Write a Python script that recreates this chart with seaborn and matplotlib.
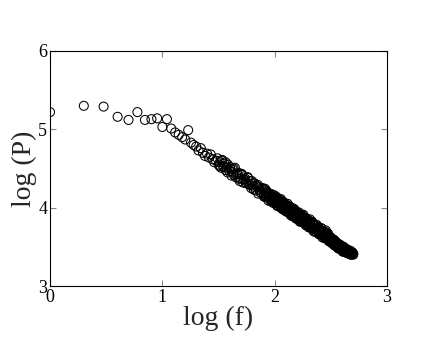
import matplotlib
matplotlib.use("Agg")
import matplotlib.pyplot as plt
import seaborn as sns
import pandas as pd

# log(f) / log(P) değerleri
log_f_sparse = [0.000, 0.301, 0.477, 0.602, 0.699, 0.778, 0.845, 0.903, 0.954, 1.000,
                1.041, 1.079, 1.114, 1.146, 1.176, 1.204, 1.230, 1.255, 1.279, 1.301,
                1.322, 1.342, 1.362, 1.380, 1.398, 1.415, 1.431, 1.447, 1.462, 1.477]
log_p_sparse = [5.22, 5.30, 5.29, 5.16, 5.12, 5.22, 5.12, 5.13, 5.14, 5.03,
                5.13, 5.01, 4.96, 4.93, 4.90, 4.87, 4.99, 4.83, 4.80, 4.78,
                4.73, 4.76, 4.70, 4.66, 4.69, 4.64, 4.68, 4.62, 4.58, 4.60]

log_f_mid = [1.491, 1.502, 1.512, 1.523, 1.533, 1.543, 1.553, 1.564, 1.574, 1.584,
             1.595, 1.605, 1.615, 1.626, 1.636, 1.646, 1.657, 1.667, 1.677, 1.688,
             1.698, 1.708, 1.719, 1.729, 1.739, 1.750, 1.760, 1.770, 1.781, 1.791,
             1.801, 1.812, 1.822, 1.832, 1.843, 1.853, 1.863, 1.874, 1.884, 1.894,
             1.905, 1.915, 1.925, 1.936, 1.946, 1.956, 1.967, 1.977, 1.987, 1.998]
log_p_mid = [4.63, 4.55, 4.58, 4.51, 4.61, 4.53, 4.56, 4.48, 4.51, 4.55,
             4.47, 4.50, 4.41, 4.49, 4.42, 4.51, 4.42, 4.43, 4.37, 4.44,
             4.37, 4.43, 4.32, 4.36, 4.37, 4.31, 4.39, 4.30, 4.34, 4.25,
             4.30, 4.27, 4.31, 4.22, 4.27, 4.18, 4.26, 4.22, 4.18, 4.25,
             4.17, 4.19, 4.13, 4.19, 4.14, 4.18, 4.10, 4.14, 4.06, 4.11]

log_f_mid2 = [1.509, 1.527, 1.545, 1.563, 1.581, 1.599, 1.617, 1.635, 1.653, 1.671,
              1.689, 1.707, 1.725, 1.743, 1.761, 1.779, 1.797, 1.815, 1.833, 1.851,
              1.869, 1.887, 1.905, 1.923, 1.941]
log_p_mid2 = [4.53, 4.60, 4.52, 4.58, 4.45, 4.52, 4.46, 4.50, 4.39, 4.44,
              4.34, 4.42, 4.36, 4.32, 4.38, 4.29, 4.34, 4.23, 4.28, 4.29,
              4.20, 4.24, 4.15, 4.22, 4.14]

log_f_dense = [2.007, 2.014, 2.021, 2.028, 2.035, 2.042, 2.049, 2.056, 2.063, 2.070,
               2.077, 2.084, 2.091, 2.098, 2.105, 2.112, 2.119, 2.126, 2.133, 2.140,
               2.147, 2.154, 2.161, 2.168, 2.175, 2.182, 2.189, 2.196, 2.203, 2.210,
               2.217, 2.224, 2.231, 2.238, 2.245, 2.252, 2.259, 2.266, 2.273, 2.280,
               2.287, 2.294, 2.301, 2.308, 2.315, 2.322, 2.329, 2.336, 2.343, 2.350,
               2.357, 2.364, 2.371, 2.378, 2.385, 2.392, 2.399, 2.406, 2.413, 2.420,
               2.427, 2.434, 2.441, 2.448, 2.455, 2.462, 2.469, 2.476, 2.483, 2.490,
               2.497]
log_p_dense = [4.12, 4.07, 4.12, 4.03, 4.08, 4.05, 4.10, 4.01, 4.06, 3.98,
               4.05, 4.02, 3.99, 4.04, 3.96, 4.01, 3.97, 4.00, 3.94, 4.01,
               3.93, 3.96, 3.89, 3.95, 3.92, 3.96, 3.88, 3.93, 3.86, 3.89,
               3.90, 3.86, 3.91, 3.83, 3.87, 3.81, 3.87, 3.82, 3.85, 3.79,
               3.85, 3.79, 3.81, 3.75, 3.82, 3.78, 3.75, 3.80, 3.73, 3.77,
               3.73, 3.77, 3.69, 3.73, 3.70, 3.74, 3.67, 3.71, 3.69, 3.65,
               3.70, 3.65, 3.67, 3.62, 3.67, 3.63, 3.66, 3.60, 3.63, 3.58,
               3.62]

log_f_tail = [2.503, 2.509, 2.515, 2.521, 2.527, 2.533, 2.539, 2.545, 2.551, 2.557,
              2.563, 2.569, 2.575, 2.581, 2.587, 2.593, 2.599, 2.605, 2.611, 2.617,
              2.623, 2.629, 2.635, 2.641, 2.647, 2.653, 2.659, 2.665, 2.671, 2.677,
              2.683, 2.689, 2.695, 2.700]
log_p_tail = [3.61, 3.56, 3.58, 3.54, 3.59, 3.54, 3.56, 3.52, 3.53, 3.55,
              3.49, 3.52, 3.49, 3.52, 3.47, 3.51, 3.47, 3.48, 3.44, 3.48,
              3.46, 3.44, 3.47, 3.44, 3.45, 3.42, 3.45, 3.42, 3.44, 3.40,
              3.43, 3.41, 3.42, 3.41]

# bandın kalın kısmındaki ek noktalar
log_f_band = [1.905, 1.915, 1.925, 1.935, 1.945, 1.955, 1.965, 1.975, 1.985, 1.995,
              2.005, 2.015, 2.025, 2.035, 2.045, 2.055, 2.065, 2.075, 2.085, 2.095,
              2.105, 2.115, 2.125, 2.135, 2.145, 2.155, 2.165, 2.175, 2.185, 2.195,
              2.205, 2.215, 2.225, 2.235, 2.245, 2.255, 2.265, 2.275, 2.285, 2.295,
              2.305, 2.315, 2.325, 2.335, 2.345, 2.355, 2.365, 2.375, 2.385, 2.395,
              2.405, 2.415, 2.425, 2.435, 2.445, 2.455, 2.465, 2.475, 2.485, 2.495,
              2.505, 2.515, 2.525, 2.535, 2.545, 2.555, 2.565, 2.575, 2.585, 2.595,
              2.605, 2.615, 2.625, 2.635, 2.645, 2.655, 2.665, 2.675, 2.685, 2.695]
log_p_band = [4.14, 4.24, 4.15, 4.20, 4.09, 4.17, 4.09, 4.17, 4.10, 4.12,
              4.06, 4.14, 4.02, 4.09, 4.03, 4.11, 4.02, 4.07, 3.97, 4.02,
              3.95, 4.05, 3.96, 4.01, 3.90, 3.98, 3.90, 3.98, 3.91, 3.93,
              3.86, 3.94, 3.82, 3.89, 3.83, 3.91, 3.82, 3.87, 3.77, 3.82,
              3.75, 3.85, 3.76, 3.81, 3.70, 3.78, 3.70, 3.78, 3.71, 3.73,
              3.66, 3.74, 3.62, 3.69, 3.63, 3.71, 3.62, 3.67, 3.57, 3.62,
              3.55, 3.60, 3.54, 3.58, 3.51, 3.54, 3.48, 3.53, 3.47, 3.50,
              3.44, 3.50, 3.44, 3.47, 3.42, 3.46, 3.41, 3.44, 3.40, 3.42]

log_f_band2 = [1.952, 1.960, 1.969, 1.977, 1.986, 1.994, 2.003, 2.011, 2.020, 2.028,
               2.037, 2.045, 2.054, 2.062, 2.071, 2.079, 2.088, 2.096, 2.105, 2.113,
               2.122, 2.130, 2.139, 2.147, 2.156, 2.164, 2.173, 2.181, 2.190, 2.198,
               2.207, 2.215, 2.224, 2.232, 2.241, 2.249, 2.258, 2.266, 2.275, 2.283,
               2.292, 2.300, 2.309, 2.317, 2.326, 2.334, 2.343, 2.351, 2.360, 2.368,
               2.377, 2.385, 2.394, 2.402, 2.411, 2.419, 2.428, 2.436, 2.445, 2.453,
               2.462, 2.470, 2.479, 2.487, 2.496, 2.504, 2.513, 2.521, 2.530, 2.538,
               2.547, 2.555, 2.564, 2.572, 2.581, 2.589, 2.598, 2.606, 2.615, 2.623,
               2.632, 2.640, 2.649, 2.657, 2.666, 2.674, 2.683, 2.691, 2.699]
log_p_band2 = [4.15, 4.17, 4.08, 4.14, 4.09, 4.16, 4.09, 4.11, 4.03, 4.11,
               4.06, 4.09, 4.00, 4.05, 4.00, 4.07, 4.00, 4.03, 3.95, 4.03,
               3.98, 4.00, 3.92, 3.97, 3.92, 3.99, 3.92, 3.94, 3.86, 3.94,
               3.89, 3.92, 3.83, 3.88, 3.83, 3.90, 3.83, 3.86, 3.78, 3.86,
               3.81, 3.84, 3.75, 3.80, 3.75, 3.82, 3.75, 3.77, 3.69, 3.77,
               3.72, 3.75, 3.66, 3.71, 3.66, 3.73, 3.66, 3.69, 3.61, 3.69,
               3.64, 3.67, 3.58, 3.63, 3.58, 3.61, 3.57, 3.58, 3.52, 3.57,
               3.53, 3.54, 3.49, 3.52, 3.48, 3.52, 3.47, 3.49, 3.44, 3.48,
               3.45, 3.47, 3.42, 3.45, 3.42, 3.45, 3.42, 3.43, 3.40]

x_ticks = [0, 1, 2, 3]
y_ticks = [3, 4, 5, 6]

df = pd.DataFrame({
    "log_f": (log_f_sparse + log_f_mid + log_f_mid2 + log_f_dense + log_f_tail
              + log_f_band + log_f_band2),
    "log_p": (log_p_sparse + log_p_mid + log_p_mid2 + log_p_dense + log_p_tail
              + log_p_band + log_p_band2),
})

sns.set_theme(style="ticks")
plt.rcParams["font.family"] = ["Liberation Serif", "DejaVu Serif"]

fig = plt.figure(figsize=(4.36, 3.37), dpi=100)
ax = fig.add_axes([0.1147, 0.1513, 0.7729, 0.6974])

sns.scatterplot(data=df, x="log_f", y="log_p", ax=ax, marker="o", s=42,
                facecolor="none", edgecolor="black", linewidth=0.75, legend=False)

ax.set_xlim(0, 3)
ax.set_ylim(3, 6)
ax.set_xticks(x_ticks)
ax.set_yticks(y_ticks)
ax.tick_params(direction="in", length=4.5, width=0.8, color="#888888",
               top=True, right=True, labelsize=13, pad=2, labelcolor="black")
for sp in ax.spines.values():
    sp.set_linewidth(0.8)
    sp.set_color("black")

ax.set_xlabel("log (f)", fontsize=20, labelpad=0)
ax.set_ylabel("log (P)", fontsize=20, labelpad=1)

plt.savefig("out.png", dpi=100)
